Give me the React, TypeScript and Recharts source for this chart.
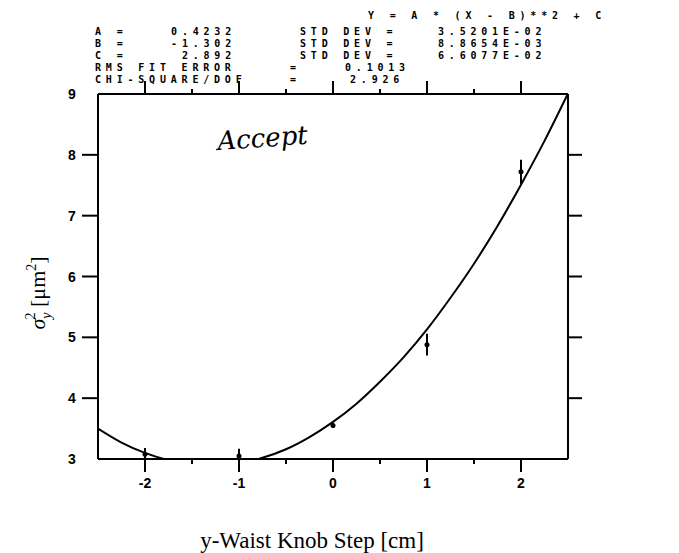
import {ComposedChart, ErrorBar, Line, Scatter, XAxis, YAxis} from 'recharts';

// fitted curve, every 0.25 step
const curveX = [-2.5, -2.25, -2, -1.75, -1.5, -1.25, -1, -0.75, -0.5, -0.25, 0, 0.25, 0.5, 0.75, 1, 1.25, 1.5, 1.75, 2, 2.25, 2.5];
const curveY = [3.5, 3.27, 3.1, 2.98, 2.91, 2.89, 2.93, 3.02, 3.16, 3.36, 3.61, 3.91, 4.27, 4.67, 5.13, 5.65, 6.21, 6.83, 7.51, 8.23, 9.01];

// measured points with error bars
const stepX = [-2, -1, 0, 1, 2];
const sigmaY = [3.08, 3.05, 3.55, 4.88, 7.72];
const sigmaErr = [0.1, 0.12, 0.04, 0.18, 0.2];

const xTicks = [-2, -1.5, -1, -0.5, 0, 0.5, 1, 1.5, 2];
const yTicks = [3, 4, 5, 6, 7, 8, 9];

const fitLines = [
  ['A =', '0.4232', 'STD DEV =', '3.5201E-02'],
  ['B =', '-1.302', 'STD DEV =', '8.8654E-03'],
  ['C =', '2.892', 'STD DEV =', '6.6077E-02'],
];

const curve = curveX.map((x, i) => ({x, y: curveY[i]}));
const points = stepX.map((x, i) => ({x, y: sigmaY[i], err: sigmaErr[i]}));

const W = 679;
const H = 553;
const LEFT = 98;
const RIGHT = 568;
const TOP = 94;
const BOTTOM = 459;

const mono = {fontFamily: '"DejaVu Sans Mono", monospace', fontWeight: 700, fontSize: 10, letterSpacing: 4.8};
const tickFont = {fontFamily: '"Liberation Sans", sans-serif', fontWeight: 700, fontSize: 14, fill: '#000'};

function BottomTick(props: any) {
  const {x, payload} = props;
  const major = Number.isInteger(payload.value);
  return (
    <g>
      <line x1={x} x2={x} y1={BOTTOM} y2={BOTTOM + (major ? 13 : 5)} stroke="#000" strokeWidth={2} />
      {major && (
        <text x={x} y={BOTTOM + 29} textAnchor="middle" {...tickFont}>
          {payload.value}
        </text>
      )}
    </g>
  );
}

function TopTick(props: any) {
  const {x, payload} = props;
  const major = Number.isInteger(payload.value);
  return <line x1={x} x2={x} y1={TOP} y2={TOP - (major ? 13 : 5)} stroke="#000" strokeWidth={2} />;
}

function LeftTick(props: any) {
  const {y, payload} = props;
  const edge = payload.value === 3 || payload.value === 9;
  return (
    <g>
      {!edge && <line x1={LEFT - 16} x2={LEFT} y1={y} y2={y} stroke="#000" strokeWidth={2} />}
      <text x={72} y={y + 5} textAnchor="middle" {...tickFont}>
        {payload.value}
      </text>
    </g>
  );
}

function RightTick(props: any) {
  const {y, payload} = props;
  if (payload.value === 3 || payload.value === 9) return <g />;
  return <line x1={RIGHT} x2={RIGHT + 14} y1={y} y2={y} stroke="#000" strokeWidth={2} />;
}

function Dot(props: any) {
  const {cx, cy} = props;
  return <circle cx={cx} cy={cy} r={2.5} fill="#000" />;
}

export default function App() {
  return (
    <div style={{position: 'absolute', left: 0, top: 0, width: W, height: H, background: '#fff'}}>
      <ComposedChart
        width={W}
        height={H}
        margin={{top: TOP - 1, right: W - RIGHT - 1, bottom: H - BOTTOM - 1, left: LEFT - 1}}
      >
        <XAxis
          xAxisId="b"
          type="number"
          dataKey="x"
          domain={[-2.5, 2.5]}
          ticks={xTicks}
          height={1}
          axisLine={{stroke: '#000', strokeWidth: 2}}
          tickLine={false}
          tick={<BottomTick />}
          allowDataOverflow
        />
        <XAxis
          xAxisId="t"
          orientation="top"
          type="number"
          dataKey="x"
          domain={[-2.5, 2.5]}
          ticks={xTicks}
          height={1}
          axisLine={{stroke: '#000', strokeWidth: 2}}
          tickLine={false}
          tick={<TopTick />}
          allowDataOverflow
        />
        <YAxis
          yAxisId="l"
          type="number"
          domain={[3, 9]}
          ticks={yTicks}
          width={1}
          axisLine={{stroke: '#000', strokeWidth: 2}}
          tickLine={false}
          tick={<LeftTick />}
          allowDataOverflow
        />
        <YAxis
          yAxisId="r"
          orientation="right"
          type="number"
          domain={[3, 9]}
          ticks={yTicks}
          width={1}
          axisLine={{stroke: '#000', strokeWidth: 2}}
          tickLine={false}
          tick={<RightTick />}
          allowDataOverflow
        />
        <Line
          xAxisId="b"
          yAxisId="l"
          data={curve}
          dataKey="y"
          type="monotone"
          stroke="#000"
          strokeWidth={2}
          dot={false}
          isAnimationActive={false}
        />
        <Scatter
          xAxisId="b"
          yAxisId="l"
          data={points}
          dataKey="y"
          fill="#000"
          shape={<Dot />}
          isAnimationActive={false}
        >
          <ErrorBar dataKey="err" direction="y" width={0} stroke="#000" strokeWidth={2} />
        </Scatter>
      </ComposedChart>

      <svg width={W} height={H} style={{position: 'absolute', left: 0, top: 0, pointerEvents: 'none'}}>
        <text x={368} y={19} {...mono}>Y = A * (X - B)**2 + C</text>
        {fitLines.map((row, i) => (
          <g key={row[0]}>
            <text x={95} y={35 + i * 12} {...mono}>{row[0]}</text>
            <text x={236} y={35 + i * 12} textAnchor="end" {...mono}>{row[1]}</text>
            <text x={300} y={35 + i * 12} {...mono}>{row[2]}</text>
            <text x={438} y={35 + i * 12} {...mono}>{row[3]}</text>
          </g>
        ))}
        <text x={95} y={71} {...mono}>RMS FIT ERROR</text>
        <text x={290} y={71} {...mono}>=</text>
        <text x={345} y={71} {...mono}>0.1013</text>
        <text x={95} y={83} {...mono}>CHI-SQUARE/DOF</text>
        <text x={290} y={83} {...mono}>=</text>
        <text x={350} y={83} {...mono}>2.926</text>

        <text
          x={218}
          y={150}
          fontFamily='"DejaVu Serif", serif'
          fontStyle="italic"
          fontSize={26}
          fill="#000"
          transform="rotate(-4 218 150)"
        >
          Accept
        </text>

        <text
          transform="translate(45 293) rotate(-90)"
          textAnchor="middle"
          fontFamily='"Liberation Serif", serif'
          fontSize={22}
          fill="#000"
        >
          <tspan fontStyle="italic">σ</tspan>
          <tspan dy={6} fontSize={14} fontStyle="italic">y</tspan>
          <tspan dx={-7} dy={-16} fontSize={14}>2</tspan>
          <tspan dy={10}> [μm</tspan>
          <tspan dy={-9} fontSize={14}>2</tspan>
          <tspan dy={9}>]</tspan>
        </text>

        <text x={312} y={548} textAnchor="middle" fontFamily='"Liberation Serif", serif' fontSize={23} fill="#000">
          y-Waist Knob Step [cm]
        </text>
      </svg>
    </div>
  );
}
